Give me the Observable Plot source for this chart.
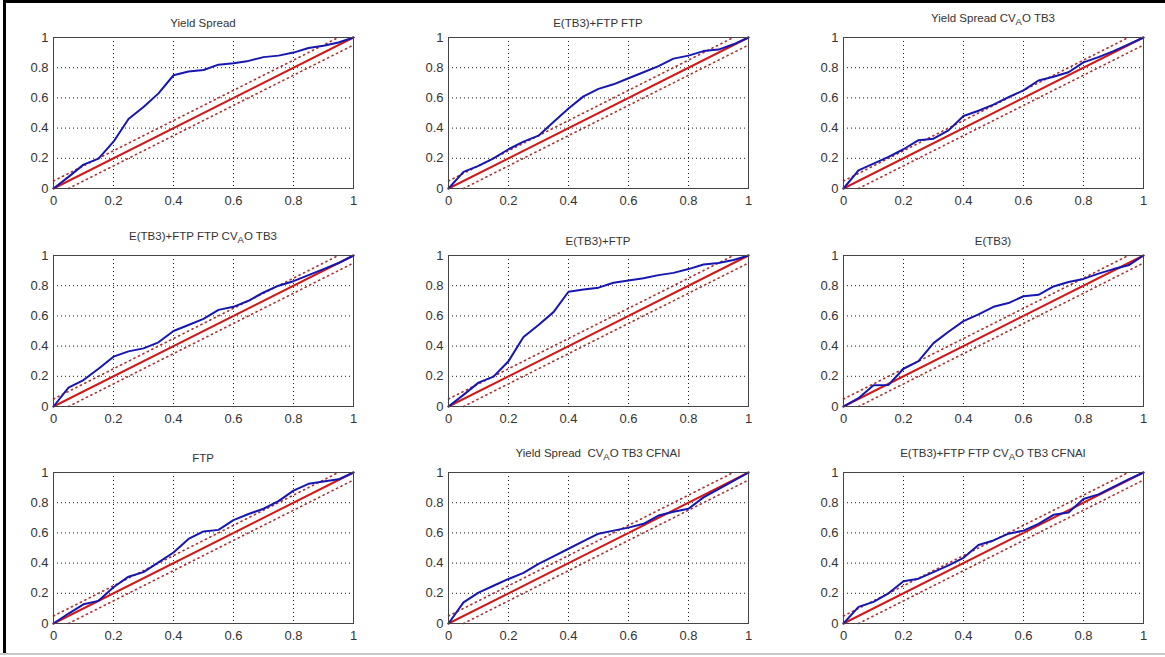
<!DOCTYPE html>
<html><head><meta charset="utf-8">
<script src="https://cdn.jsdelivr.net/npm/d3@7"></script>
<script src="https://cdn.jsdelivr.net/npm/@observablehq/plot@0.6"></script>
<style>
body{margin:0;background:#fff;}
#wrap{position:relative;width:1165px;height:657px;overflow:hidden;background:#fff;font-family:"Liberation Sans",Arial,sans-serif;}
.panel{position:absolute;}
.bar{position:absolute;}
</style></head><body><div id="wrap"></div>
<script>
// x positions (probability grid)
const xs = [0,0.05,0.1,0.15,0.2,0.25,0.3,0.35,0.4,0.45,0.5,0.55,0.6,0.65,0.7,0.75,0.8,0.85,0.9,0.95,1];

// blue curves, one array per panel
const yYieldSpread      = [0,0.077,0.158,0.198,0.31,0.46,0.54,0.63,0.75,0.775,0.785,0.82,0.83,0.845,0.87,0.88,0.90,0.93,0.945,0.967,1];
const yETB3FTP_FTP      = [0,0.11,0.15,0.20,0.26,0.31,0.35,0.44,0.53,0.61,0.66,0.69,0.73,0.77,0.81,0.86,0.88,0.91,0.92,0.955,1];
const yYS_CVAO_TB3      = [0,0.12,0.165,0.21,0.26,0.32,0.33,0.385,0.48,0.515,0.555,0.605,0.65,0.715,0.74,0.77,0.835,0.87,0.91,0.955,1];
const yETB3FTP_FTP_CVAO = [0,0.125,0.175,0.25,0.33,0.365,0.385,0.425,0.50,0.54,0.58,0.64,0.66,0.70,0.755,0.80,0.83,0.87,0.91,0.95,1];
const yETB3FTP          = [0,0.077,0.158,0.198,0.30,0.46,0.54,0.625,0.76,0.775,0.787,0.82,0.835,0.85,0.87,0.885,0.91,0.94,0.95,0.97,1];
const yETB3             = [0,0.055,0.14,0.143,0.25,0.30,0.42,0.495,0.565,0.61,0.66,0.685,0.73,0.74,0.795,0.825,0.845,0.88,0.91,0.935,1];
const yFTP              = [0,0.066,0.127,0.15,0.24,0.31,0.34,0.405,0.47,0.56,0.61,0.62,0.685,0.725,0.76,0.81,0.88,0.925,0.94,0.955,1];
const yYS_CVAO_CFNAI    = [0,0.14,0.205,0.25,0.295,0.335,0.395,0.445,0.495,0.545,0.595,0.615,0.635,0.66,0.715,0.74,0.76,0.835,0.89,0.945,1];
const yETB3_CVAO_CFNAI  = [0,0.11,0.143,0.20,0.28,0.297,0.34,0.385,0.435,0.52,0.55,0.595,0.615,0.66,0.72,0.735,0.825,0.855,0.905,0.955,1];

// titles ("_A" marks a subscript A)
const titles = [
  "Yield Spread",
  "E(TB3)+FTP FTP",
  "Yield Spread CV_AO TB3",
  "E(TB3)+FTP FTP CV_AO TB3",
  "E(TB3)+FTP",
  "E(TB3)",
  "FTP",
  "Yield Spread  CV_AO TB3 CFNAI",
  "E(TB3)+FTP FTP CV_AO TB3 CFNAI"
];
const series = [yYieldSpread,yETB3FTP_FTP,yYS_CVAO_TB3,yETB3FTP_FTP_CVAO,yETB3FTP,yETB3,yFTP,yYS_CVAO_CFNAI,yETB3_CVAO_CFNAI];

const tickValues = [0,0.2,0.4,0.6,0.8,1];
const gridValues = [0.2,0.4,0.6,0.8];
const diagonal = [0,1];
const band = 0.05;

const W=300,H=151, ML=34, MR=16, MT=34, MB=26;
const lefts=[53,448,843], tops=[37,255,472];
const wrap = document.getElementById("wrap");

series.forEach((vals,i)=>{
  const col=i%3,row=Math.floor(i/3);
  const data = xs.map((x,j)=>({x,y:vals[j]}));
  const diag = diagonal.map(v=>({x:v,y:v}));
  const upper = [{x:diagonal[0],y:diagonal[0]+band},{x:diagonal[1]-band,y:diagonal[1]}];
  const lower = [{x:diagonal[0]+band,y:diagonal[0]},{x:diagonal[1],y:diagonal[1]-band}];
  const chart = Plot.plot({
    width:ML+W+MR, height:MT+H+MB,
    marginLeft:ML, marginRight:MR, marginTop:MT, marginBottom:MB,
    x:{domain:[0,1], label:null}, y:{domain:[0,1], label:null},
    style:{fontFamily:'"Liberation Sans",Arial,sans-serif', fontSize:"13px", color:"#333", background:"transparent", overflow:"visible"},
    marks:[
      Plot.gridX(gridValues,{stroke:"#000",strokeOpacity:0.9,strokeDasharray:"1,3"}),
      Plot.gridY(gridValues,{stroke:"#000",strokeOpacity:0.9,strokeDasharray:"1,3"}),
      Plot.line(upper,{x:"x",y:"y",stroke:"#b03030",strokeWidth:1.6,strokeDasharray:"1.2,3.8"}),
      Plot.line(lower,{x:"x",y:"y",stroke:"#b03030",strokeWidth:1.6,strokeDasharray:"1.2,3.8"}),
      Plot.line(diag,{x:"x",y:"y",stroke:"#d01a1a",strokeWidth:2}),
      Plot.line(data,{x:"x",y:"y",stroke:"#1616b0",strokeWidth:2}),
      Plot.frame({stroke:"#444"}),
      Plot.axisX(tickValues,{tickSize:0,tickPadding:7,tickFormat:d=>String(d),fontSize:13,label:null}),
      Plot.axisY(tickValues,{tickSize:0,tickPadding:5,tickFormat:d=>String(d),fontSize:13,label:null})
    ]
  });
  const div = document.createElement("div");
  div.className="panel";
  div.style.left=(lefts[col]-ML)+"px";
  div.style.top=(tops[row]-MT)+"px";
  div.appendChild(chart);
  wrap.appendChild(div);

  // title with optional subscript
  const t = titles[i];
  const hasSub = t.includes("_");
  const svg = d3.select(chart);
  const txt = svg.append("text")
    .attr("x",ML+W/2).attr("y",MT-(hasSub?15:10))
    .attr("text-anchor","middle").attr("fill","#333")
    .style("font-size","11.5px").style("white-space","pre")
    .attr("font-family",'"Liberation Sans",Arial,sans-serif');
  if(hasSub){
    const k=t.indexOf("_");
    txt.append("tspan").text(t.slice(0,k));
    txt.append("tspan").attr("dy",3).style("font-size","9.5px").text(t[k+1]);
    txt.append("tspan").attr("dy",-3).text(t.slice(k+2));
  } else {
    txt.text(t);
  }
});

// image borders
function bar(l,t,w,h,c){const b=document.createElement("div");b.className="bar";b.style.cssText=`left:${l}px;top:${t}px;width:${w}px;height:${h}px;background:${c}`;wrap.appendChild(b);}
bar(3,0,1162,3,"#000");
bar(3,0,3,654,"#000");
bar(0,653,1165,2,"#c8c8c8");
</script></body></html>
